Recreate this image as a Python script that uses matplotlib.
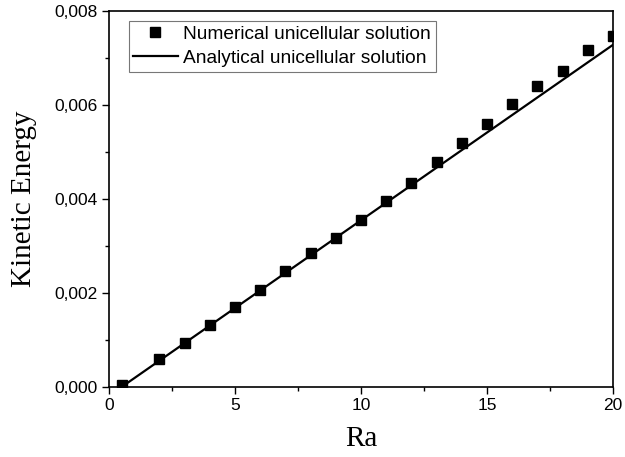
import numpy as np
import matplotlib.pyplot as plt
from matplotlib.ticker import FuncFormatter, MultipleLocator

# numerical solution
ra_num = [0.5, 2, 3, 4, 5, 6, 7, 8, 9, 10, 11, 12, 13, 14, 15, 16, 17, 18, 19, 20]
ke_num = [0.00004, 0.00059, 0.00093, 0.00131, 0.00170, 0.00207, 0.00246, 0.00285,
          0.00317, 0.00355, 0.00395, 0.00435, 0.00478, 0.00519, 0.00560, 0.00603,
          0.00640, 0.00673, 0.00717, 0.00747]

# analytical solution (straight line)
ra_ana = [0.5, 20]
ke_ana = [0.0, 0.00728]

plt.rcParams['font.family'] = ['Liberation Sans', 'DejaVu Sans']

fig = plt.figure(figsize=(6.25, 4.57), dpi=100)
ax = fig.add_axes([0.1744, 0.1532, 0.8064, 0.8228])

ax.plot(ra_num, ke_num, 's', color='black', markersize=6.5, label='Numerical unicellular solution')
ax.plot(ra_ana, ke_ana, '-', color='black', linewidth=1.6, label='Analytical unicellular solution')

ax.set_xlim(0, 20)
ax.set_ylim(0, 0.008)
ax.xaxis.set_major_locator(MultipleLocator(5))
ax.xaxis.set_minor_locator(MultipleLocator(2.5))
ax.yaxis.set_major_locator(MultipleLocator(0.002))
ax.yaxis.set_minor_locator(MultipleLocator(0.001))
ax.yaxis.set_major_formatter(FuncFormatter(lambda v, p: f'{v:.3f}'.replace('.', ',')))
ax.xaxis.set_major_formatter(FuncFormatter(lambda v, p: f'{v:g}'))

ax.tick_params(which='both', direction='out', top=False, right=False, labelsize=12.5)
ax.tick_params(which='major', length=5, width=1, pad=3)
ax.tick_params(which='minor', length=3, width=1)
for s in ax.spines.values():
    s.set_linewidth(1.2)

ax.set_xlabel('Ra', family=['Liberation Serif'], fontsize=21, labelpad=9)
ax.set_ylabel('Kinetic Energy', family=['Liberation Serif'], fontsize=21, labelpad=13)

leg = ax.legend(loc='upper left', fontsize=13.8, frameon=True, fancybox=False,
                handlelength=2.3, borderpad=0.25, labelspacing=0.35, handletextpad=0.3,
                borderaxespad=0.5, bbox_to_anchor=(0.02, 1.0))
leg.get_frame().set_edgecolor('#555555')
leg.get_frame().set_linewidth(0.8)

fig.savefig('out.png', dpi=100)
